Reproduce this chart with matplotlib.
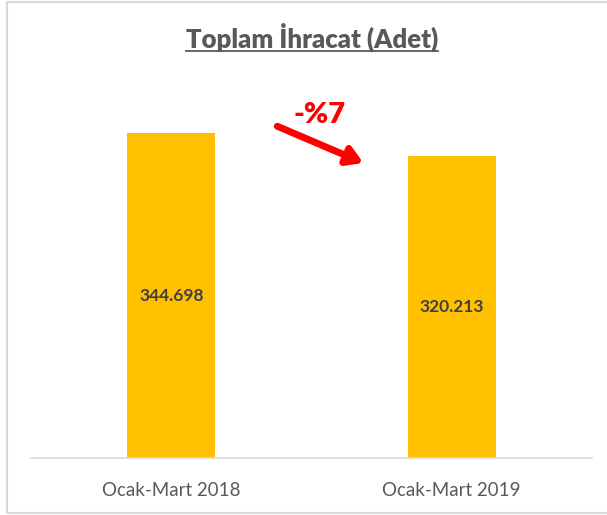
import matplotlib
matplotlib.use("Agg")
import matplotlib.pyplot as plt
from matplotlib.patches import Rectangle
from matplotlib.lines import Line2D

categories = ["Ocak-Mart 2018", "Ocak-Mart 2019"]
values = [344698, 320213]
value_labels = ["344.698", "320.213"]
title = "Toplam İhracat (Adet)"
change_label = "-%7"

W, H = 607, 515
fig = plt.figure(figsize=(W / 100, H / 100), dpi=100)
fig.patch.set_facecolor("white")

# outer border
fig.patches.append(Rectangle((6.5 / W, (H - 512.5) / H), 1.0, (512.5 - 1.5) / H,
                             transform=fig.transFigure, fill=False,
                             edgecolor="#D9D9D9", linewidth=1.5))

ax = fig.add_axes([31 / W, (H - 458) / H, 561 / W, (458 - 81) / H])
x = list(range(len(categories)))
ax.bar(x, values, width=0.315, color="#FFC000", zorder=2)
ax.set_xlim(-0.5, 1.5)
ax.set_ylim(0, 400000)
for s in ["top", "right", "left"]:
    ax.spines[s].set_visible(False)
ax.spines["bottom"].set_color("#D9D9D9")
ax.spines["bottom"].set_linewidth(1.2)
ax.set_yticks([])
ax.set_xticks(x)
ax.set_xticklabels(categories, fontsize=13.5, color="#595959", family="Lato")
ax.tick_params(axis="x", length=0, pad=17)

for xi, v, lab in zip(x, values, value_labels):
    ax.text(xi, v / 2, lab, ha="center", va="center", fontsize=12.5,
            fontweight="bold", color="#404040", family="Lato")

# change annotation
ax.annotate("", xy=(0.685, 313000), xytext=(0.378, 352000),
            arrowprops=dict(arrowstyle="-|>,head_length=0.9,head_width=0.55",
                            color="#FF0000", lw=5, shrinkA=0, shrinkB=0))
ax.text(0.53, 364000, change_label, ha="center", va="center", fontsize=21,
        fontweight="heavy", color="#FF0000", family="Lato")

t = fig.text(312 / W, (H - 37) / H, title, ha="center", va="center",
             fontsize=18.5, fontweight="heavy", color="#595959", family="Lato")
fig.canvas.draw()
bb = t.get_window_extent().transformed(fig.transFigure.inverted())
uy = (H - 51) / H
fig.lines.append(Line2D([bb.x0, bb.x1], [uy, uy], transform=fig.transFigure,
                        color="#595959", linewidth=1.3))

fig.savefig("out.png", dpi=100)
